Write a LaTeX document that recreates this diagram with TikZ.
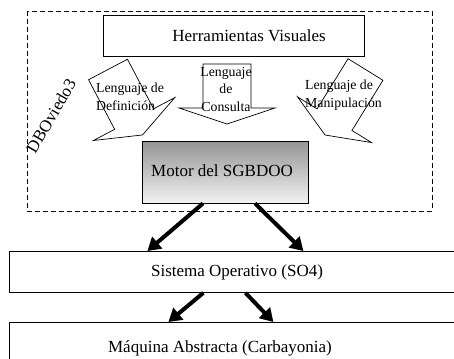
\documentclass[tikz,border=0pt]{standalone}
\usepackage{fontspec}
\setmainfont{Liberation Serif}
\usetikzlibrary{arrows.meta}
\tikzset{
  layer/.style={draw, line width=0.8pt, inner sep=0pt},
  boxtext/.style={font=\fontsize{17}{20}\selectfont, inner sep=0pt},
  langtext/.style={font=\fontsize{13.8}{17.5}\selectfont, inner sep=0pt},
  thickarrow/.style={line width=4pt, -{Triangle[length=13pt,width=15pt]}},
}
% tail, angle, length, shaft width, head width, head length
\newcommand{\blockarrow}[6]{%
  \begin{scope}[shift={(#1)}, rotate=#2]
    \draw[line width=0.7pt] (0,{-#4/2}) -- ({#3-#6},{-#4/2}) -- ({#3-#6},{-#5/2}) -- (#3,0)
      -- ({#3-#6},{#5/2}) -- ({#3-#6},{#4/2}) -- (0,{#4/2}) -- cycle;
  \end{scope}}

\begin{document}
\begin{tikzpicture}[x=1pt,y=-1pt]
	\useasboundingbox (0,0) rectangle (454,358);
	
	% DBOviedo3 frame
	\draw[line width=0.8pt, dash pattern=on 5pt off 3pt] (27,11) rectangle (432,211);
	\node[boxtext, rotate=60] (dbo) at (51,116) {DBOviedo3};
	
	% layers
	\node[layer, minimum width=261pt, minimum height=41pt] (tools) at (233.5,35.5) {};
	\node[boxtext] (toolstext) at (249,36) {Herramientas Visuales};
	
	\node[layer, minimum width=166pt, minimum height=62pt, top color=black!42, bottom color=black!5] (motor) at (225,172) {};
	\node[boxtext] (motortext) at (222,171) {Motor del SGBDOO};
	
	\node[layer, anchor=north west, minimum width=451pt, minimum height=41pt] (so) at (9,251) {};
	\node[boxtext] (sotext) at (237,272) {Sistema Operativo (SO4)};
	
	\node[layer, anchor=north west, minimum width=451pt, minimum height=58pt] (mach) at (9,322) {};
	\node[boxtext] (machtext) at (220,348) {Máquina Abstracta (Carbayonia)};
	
	% languages
	\blockarrow{108,69.5}{-62.2}{74}{44}{92}{18}
	\blockarrow{227,64}{-90}{60}{48}{96}{16}
	\blockarrow{365.5,69.5}{-121.7}{77}{41}{87}{18}
	
	\node[langtext, align=left] (defl) at (130,97) {Lenguaje de\\Definición};
	\node[langtext, align=center] (conl) at (226,89) {Lenguaje\\de\\Consulta};
	\node[langtext, align=left] (manl) at (343.5,95) {Lenguaje de\\Manipulación};
	
	% thick arrows
	\draw[thickarrow] ([xshift=-22pt]motor.south) -- ([xshift=-87.5pt]so.north);
	\draw[thickarrow] ([xshift=30pt]motor.south) -- ([xshift=68.5pt]so.north);
	\draw[thickarrow] ([xshift=-31.5pt]so.south) -- ([xshift=-66.5pt]mach.north);
	\draw[thickarrow] ([xshift=10.5pt]so.south) -- ([xshift=38.5pt]mach.north);
\end{tikzpicture}
\end{document}
